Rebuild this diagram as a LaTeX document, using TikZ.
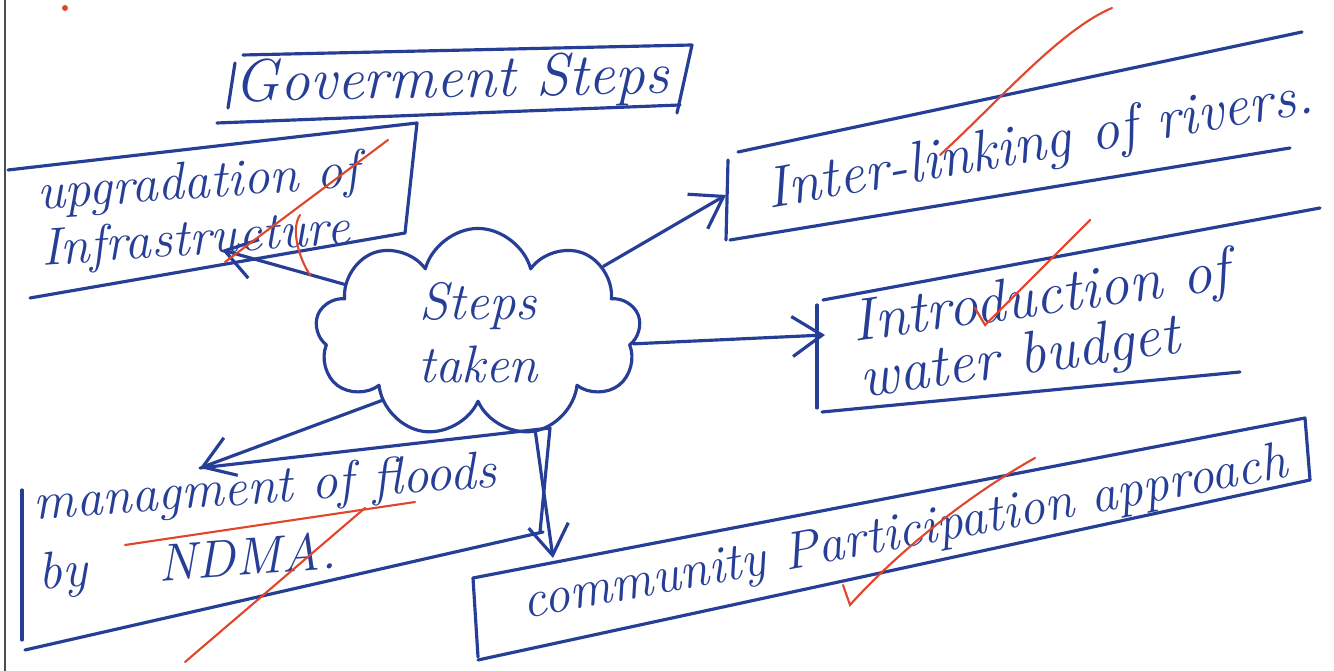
\documentclass[tikz,border=0pt]{standalone}
\usepackage{tikz}
\usetikzlibrary{positioning,shapes.symbols,arrows.meta}
\definecolor{ink}{RGB}{38,62,150}
\definecolor{redink}{RGB}{225,70,45}
\begin{document}
\begin{tikzpicture}[x=0.01cm,y=-0.01cm]
\tikzstyle{pen}=[draw=ink,line width=.9pt,line cap=round,line join=round]
\tikzstyle{hand}=[text=ink,font=\itshape\fontsize{15}{18}\selectfont,inner sep=0pt,align=left]
\tikzstyle{tick}=[draw=redink,line width=.6pt,line cap=round]
\tikzstyle{arr}=[pen,-{Straight Barb[length=3mm,width=4mm]}]
    \useasboundingbox (0,0) rectangle (1334,671);
    \fill[white] (0,0) rectangle (1334,671);
    \draw[black!70,line width=.8pt] (5,0) -- (5,671);
    \fill[redink] (65,8) circle (3);
    % title
    \node[hand,font=\itshape\fontsize{17}{20}\selectfont,rotate=1] (title) at (452,82) {Goverment Steps};
    \draw[pen] (243,55) -- (692,45) -- (677,113);
    \draw[pen] (235,63) -- (228,108);
    \draw[pen] (217,123) -- (680,105);
    % centre
    \node[cloud,cloud puffs=9,aspect=2,pen,hand,align=center,minimum width=3.25cm,minimum height=1.6cm] (steps) at (478,333) {Steps\\taken};
    % upgradation
    \node[hand,rotate=4] (upgrade) at (200,213) {upgradation of\\[-2pt]Infrastructure};
    \draw[pen] (8,170) -- (417,123) -- (405,233);
    \draw[pen] (30,298) -- (405,233);
    \coordinate (upgradeTip) at (222,250);
    \draw[arr] (steps.160) -- (upgradeTip);
    \draw[tick] (225,262) -- (388,140);
    \draw[tick] (300,215) .. controls (290,230) and (300,260) .. (310,275);
    % inter-linking
    \node[hand,font=\itshape\fontsize{16.5}{20}\selectfont,rotate=10] (rivers) at (1040,146) {Inter-linking of rivers.};
    \draw[pen] (738,152) -- (1302,32);
    \draw[pen] (728,160) -- (726,240);
    \draw[pen] (730,240) -- (1290,148);
    \coordinate (riversTip) at (726,195);
    \draw[arr] (steps.28) -- (riversTip);
    \draw[tick] (1112,8) .. controls (1060,30) and (1000,100) .. (940,155);
    % water budget
    \node[hand,font=\itshape\fontsize{17}{20}\selectfont,rotate=8] (budget) at (1045,328) {Introduction of\\[-4pt]water budget};
    \draw[pen] (823,300) -- (1320,208);
    \draw[pen] (817,305) -- (817,408);
    \draw[pen] (822,412) -- (1240,372);
    \coordinate (budgetTip) at (825,335);
    \draw[arr] (steps.-4) -- (budgetTip);
    \draw[tick] (1090,220) .. controls (1050,260) and (1010,300) .. (985,325) -- (975,308);
    % floods
    \node[hand,rotate=4] (floods) at (268,525) {managment of floods\\[2pt]by \quad NDMA.};
    \draw[pen] (200,468) -- (550,428) -- (540,532);
    \draw[pen] (22,490) -- (22,640);
    \draw[pen] (25,650) -- (543,532);
    \coordinate (floodsTip) at (200,468);
    \draw[arr] (steps.215) -- (floodsTip);
    \draw[tick] (125,545) -- (415,502);
    \draw[tick] (365,508) -- (185,662);
    % community
    \node[hand,rotate=10.5] (community) at (905,535) {community Participation approach};
    \draw[pen] (473,578) -- (1305,418) -- (1310,480);
    \draw[pen] (473,578) -- (478,657);
    \draw[pen] (478,660) -- (1310,480);
    \coordinate (communityTip) at (553,558);
    \draw[arr] (steps.-60) -- (communityTip);
    \draw[tick] (1035,458) .. controls (960,500) and (890,560) .. (850,605) -- (843,585);
\end{tikzpicture}
\end{document}
